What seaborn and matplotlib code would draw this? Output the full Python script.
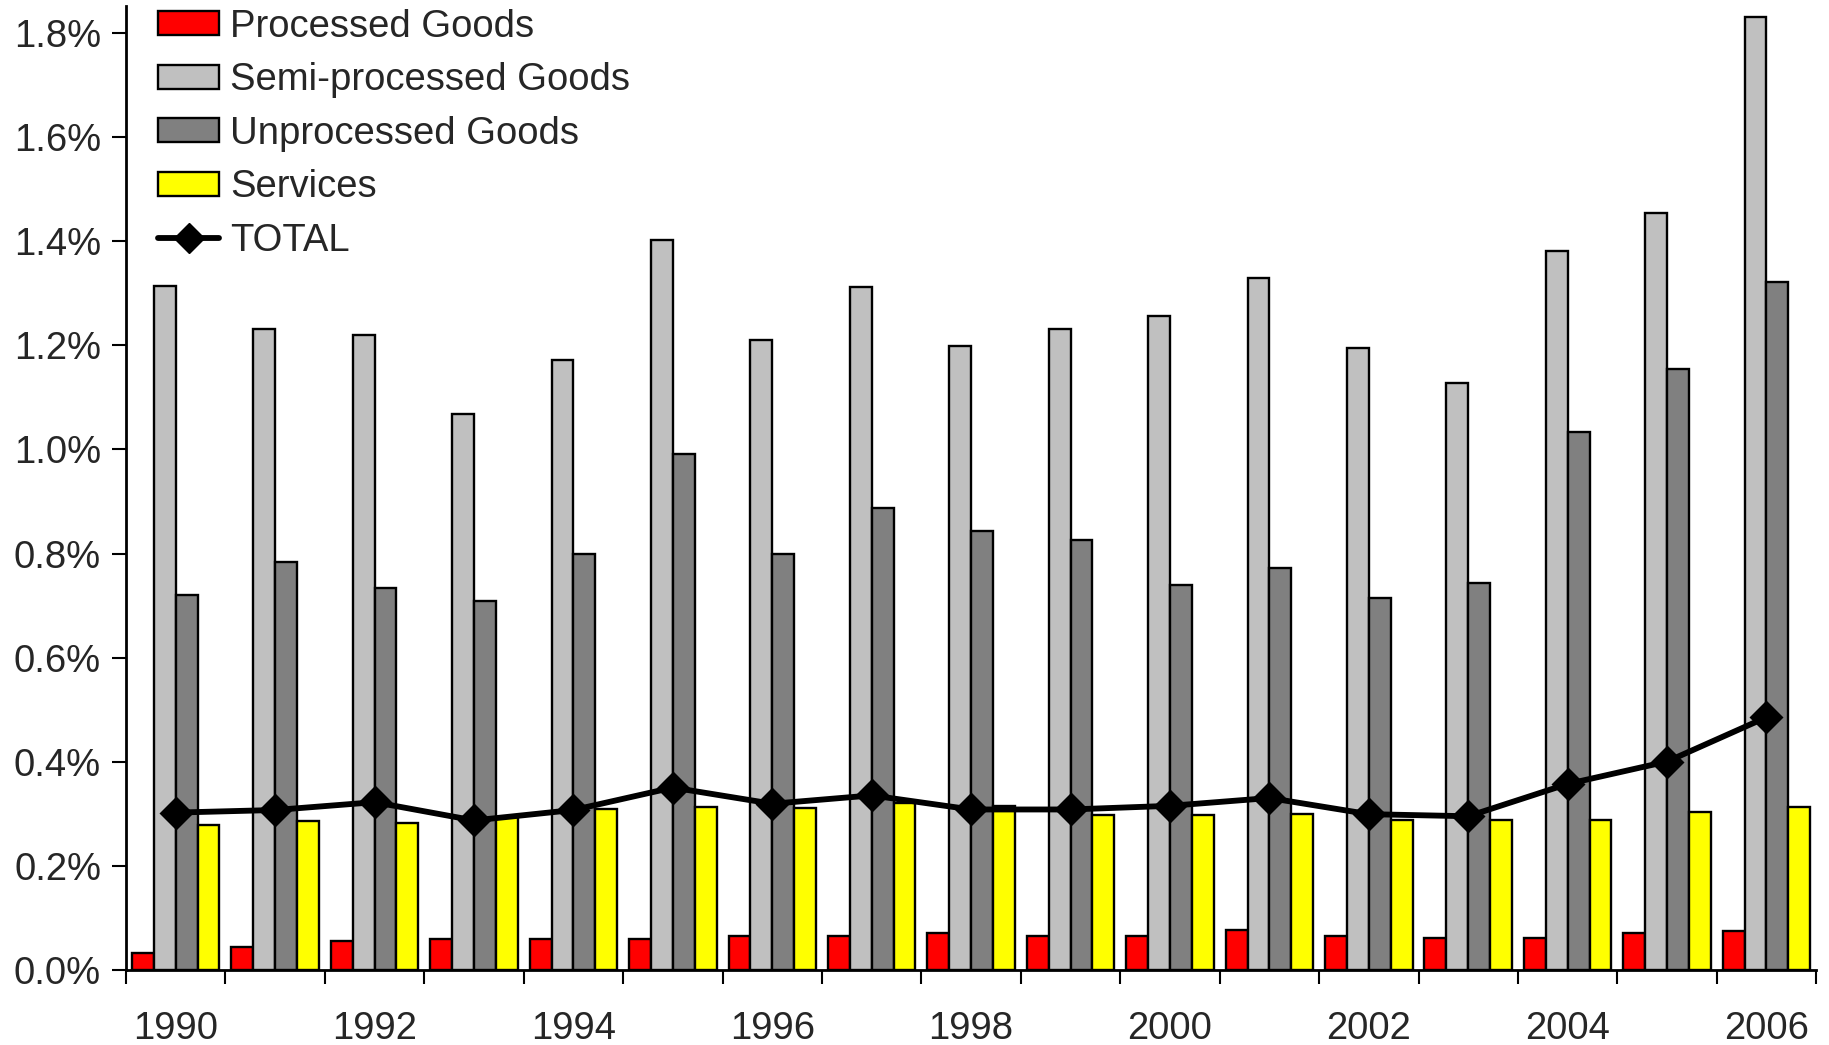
import numpy as np
import pandas as pd
import matplotlib
matplotlib.use("Agg")
import matplotlib.pyplot as plt
import seaborn as sns
from matplotlib.patches import Patch
from matplotlib.lines import Line2D
from matplotlib.ticker import FixedLocator, FuncFormatter

years = [str(y) for y in range(1990, 2007)]
processed = [0.034, 0.045, 0.057, 0.061, 0.061, 0.061, 0.067, 0.067, 0.072, 0.067,
             0.067, 0.078, 0.067, 0.063, 0.063, 0.072, 0.076]
semi_processed = [1.314, 1.231, 1.220, 1.068, 1.171, 1.401, 1.209, 1.312, 1.198, 1.231,
                  1.256, 1.328, 1.195, 1.128, 1.381, 1.453, 1.829]
unprocessed = [0.721, 0.784, 0.734, 0.710, 0.799, 0.992, 0.799, 0.887, 0.844, 0.826,
               0.739, 0.772, 0.714, 0.743, 1.034, 1.155, 1.321]
services = [0.279, 0.287, 0.283, 0.294, 0.310, 0.314, 0.311, 0.322, 0.316, 0.298,
            0.298, 0.300, 0.289, 0.289, 0.289, 0.304, 0.313]
total = [0.303, 0.308, 0.323, 0.288, 0.308, 0.351, 0.320, 0.336, 0.309, 0.309,
         0.316, 0.331, 0.300, 0.296, 0.358, 0.401, 0.486]

series_names = ["Processed Goods", "Semi-processed Goods", "Unprocessed Goods", "Services"]
series_colors = ["#FF0000", "#C0C0C0", "#808080", "#FFFF00"]

df = pd.DataFrame({
    "Year": years * 4,
    "Category": sum([[n] * len(years) for n in series_names], []),
    "Value": processed + semi_processed + unprocessed + services,
})
df_total = pd.DataFrame({"Year": years, "TOTAL": total})

sns.set_style("white")
plt.rcParams["font.family"] = ["Liberation Sans", "DejaVu Sans"]
FS = 27.5

fig = plt.figure(figsize=(18.29, 10.45), dpi=100)
ax = fig.add_axes([0.0689, 0.0713, 0.993 - 0.0689, 0.9943 - 0.0713])

sns.barplot(data=df, x="Year", y="Value", hue="Category", hue_order=series_names,
            order=years, palette=series_colors, saturation=1, width=0.88,
            edgecolor="black", linewidth=1.7, ax=ax, legend=False, errorbar=None)

n_before = len(ax.lines)
sns.pointplot(data=df_total, x="Year", y="TOTAL", order=years, color="black",
              markers="D", linestyles="-", errorbar=None, ax=ax)
for ln in ax.lines[n_before:]:
    ln.set_linewidth(4.2)
    ln.set_markersize(15)
    ln.set_zorder(5)

ax.set_xlim(-0.5, len(years) - 0.5)
ax.set_ylim(0, 1.851)
ax.set_xlabel("")
ax.set_ylabel("")

for s in ["top", "right"]:
    ax.spines[s].set_visible(False)
for s in ["left", "bottom"]:
    ax.spines[s].set_color("black")
    ax.spines[s].set_linewidth(2)

yt = [0.0, 0.2, 0.4, 0.6, 0.8, 1.0, 1.2, 1.4, 1.6, 1.8]
ax.yaxis.set_major_locator(FixedLocator(yt))
ax.yaxis.set_major_formatter(FuncFormatter(lambda v, p: f"{v:.1f}%"))
ax.tick_params(axis="y", which="major", direction="out", length=10, width=1.5,
               labelsize=FS, pad=8, left=True, color="black")

ax.xaxis.set_major_locator(FixedLocator(np.arange(-0.5, len(years), 1.0)))
ax.xaxis.set_major_formatter(FuncFormatter(lambda v, p: ""))
ax.xaxis.set_minor_locator(FixedLocator(np.arange(0, len(years), 2)))
ax.xaxis.set_minor_formatter(FuncFormatter(lambda v, p: years[int(round(v))]))
ax.tick_params(axis="x", which="major", direction="out", length=10, width=1.5,
               bottom=True, color="black")
ax.tick_params(axis="x", which="minor", length=0, labelsize=FS, pad=29.5, bottom=True)

handles = [Patch(facecolor=c, edgecolor="black", linewidth=1.7) for c in series_colors]
handles.append(Line2D([0], [0], color="black", linewidth=4.2, marker="D", markersize=15))
labels = series_names + ["TOTAL"]
ax.legend(handles, labels, loc="upper left", bbox_to_anchor=(0.010, 1.013),
          frameon=False, fontsize=FS, handlelength=1.6, handleheight=0.6,
          handletextpad=0.29, labelspacing=0.46, borderaxespad=0)

fig.savefig("out.png", dpi=100)
